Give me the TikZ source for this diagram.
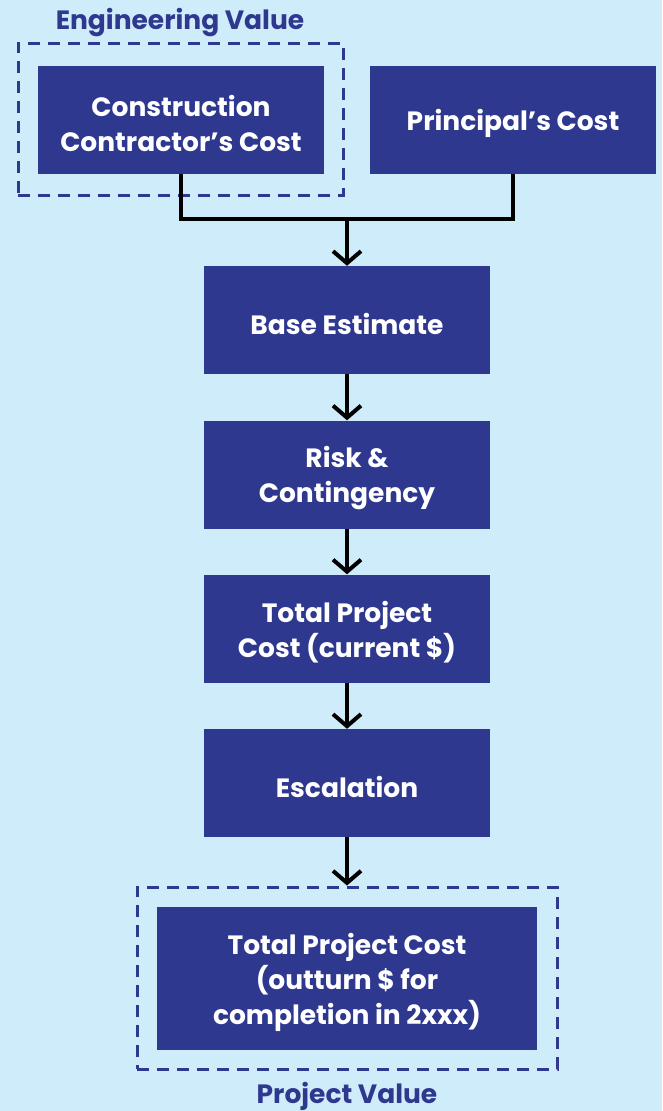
\documentclass[tikz,border=0pt]{standalone}
\usepackage{fontspec}
\setmainfont{Poppins}
\usetikzlibrary{arrows.meta}
\definecolor{bgblue}{RGB}{207,236,250}
\definecolor{boxblue}{RGB}{46,56,143}
\begin{document}
\begin{tikzpicture}[x=1pt,y=-1pt,
  costbox/.style={fill=boxblue,draw=none,minimum width=286pt,minimum height=108pt,inner sep=0pt},
  boxtext/.style={text=white,align=center,inner sep=0pt,yshift=-3.5pt,
    font=\fontsize{26.5}{35}\selectfont\bfseries},
  groupbox/.style={draw=boxblue,line width=3pt,dash pattern=on 12pt off 8pt,fill=none,inner sep=0pt},
  grouplabel/.style={text=boxblue,font=\fontsize{26.5}{30}\selectfont\bfseries,inner sep=0pt,
    text height=19pt,text depth=4pt,anchor=base},
  link/.style={line width=4pt,draw=black},
  flow/.style={link,-{Straight Barb[length=12pt,width=28pt]}}]
\fill[bgblue] (0,0) rectangle (662,1111);
\useasboundingbox (0,0) rectangle (662,1111);
% group frames
\node[groupbox,minimum width=325pt,minimum height=152pt] (evbox) at (180.5,119) {};
\node[groupbox,minimum width=420pt,minimum height=182pt] (pvbox) at (347,978) {};
% boxes
\node[costbox,label={[boxtext]center:Construction\\Contractor’s Cost}] (cc) at (181,119.5) {};
\node[costbox,label={[boxtext]center:Principal’s Cost}] (pc) at (513,119.5) {};
\node[costbox,label={[boxtext]center:Base Estimate}] (be) at (347,320) {};
\node[costbox,label={[boxtext]center:Risk \&\\Contingency}] (rc) at (347,474.5) {};
\node[costbox,label={[boxtext]center:Total Project\\Cost (current \$)}] (tp) at (347,628.5) {};
\node[costbox,label={[boxtext]center:Escalation}] (es) at (347,783) {};
\node[costbox,minimum width=380pt,minimum height=143pt,
  label={[boxtext]center:Total Project Cost\\(outturn \$ for\\completion in 2xxx)}] (tt) at (347,978.5) {};
% labels
\node[grouplabel] (evl) at (180,29) {Engineering Value};
\node[grouplabel] (pvl) at (347,1103.5) {Project Value};
% connectors
\coordinate (j) at (347,219);
\draw[link,line join=miter] (cc.south) |- (j) -| (pc.south);
\draw[flow] (j) -- (be.north);
\draw[flow] (be.south) -- (rc.north);
\draw[flow] (rc.south) -- (tp.north);
\draw[flow] (tp.south) -- (es.north);
\draw[flow] (es.south) -- (pvbox.north);
\end{tikzpicture}
\end{document}
